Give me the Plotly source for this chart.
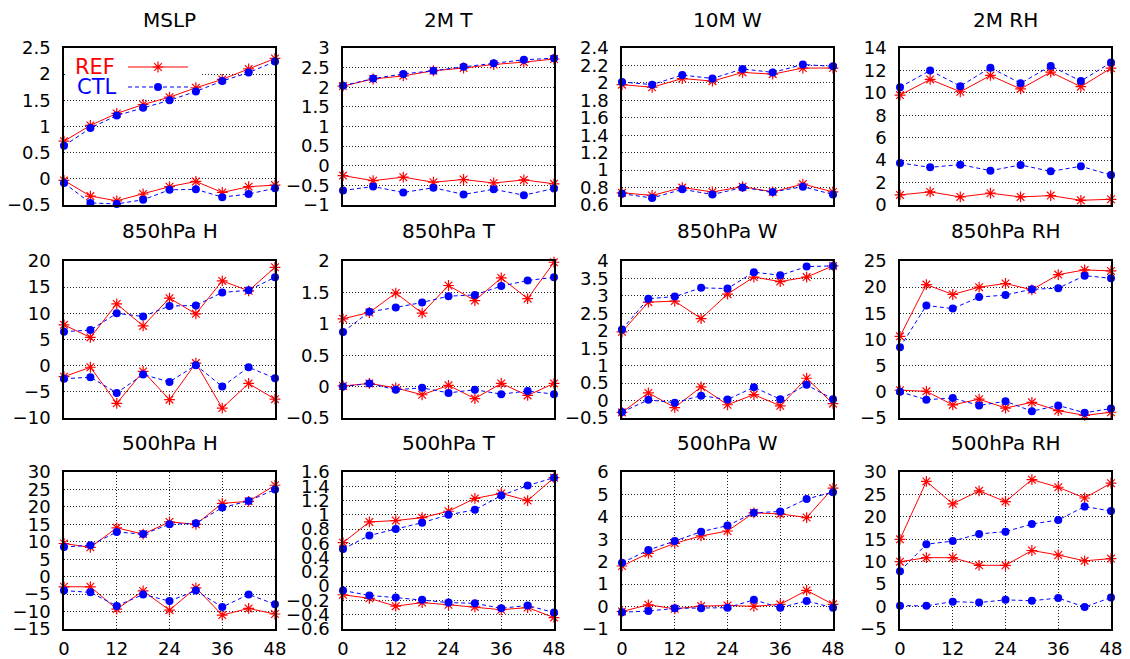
import plotly.graph_objects as go

# Forecast-error curves (REF vs CTL) for twelve fields, two curve pairs per field.
hours9 = [0, 6, 12, 18, 24, 30, 36, 42, 48]
hours8 = [6, 12, 18, 24, 30, 36, 42, 48]
xticks = [0, 12, 24, 36, 48]

# ---- MSLP
mslp_ref_a = [0.72, 1.02, 1.25, 1.42, 1.56, 1.74, 1.90, 2.10, 2.30]
mslp_ctl_a = [0.63, 0.97, 1.21, 1.36, 1.50, 1.67, 1.87, 2.03, 2.24]
mslp_ref_b = [-0.03, -0.33, -0.42, -0.29, -0.15, -0.05, -0.26, -0.15, -0.12]
mslp_ctl_b = [-0.08, -0.46, -0.48, -0.40, -0.21, -0.20, -0.35, -0.29, -0.18]
mslp_yticks = [-0.5, 0, 0.5, 1, 1.5, 2, 2.5]

# ---- 2M T
t2m_ref_a = [2.03, 2.21, 2.29, 2.42, 2.49, 2.58, 2.64, 2.72]
t2m_ctl_a = [2.04, 2.22, 2.34, 2.42, 2.52, 2.61, 2.70, 2.74]
t2m_ref_b = [-0.25, -0.38, -0.29, -0.42, -0.35, -0.44, -0.36, -0.46]
t2m_ctl_b = [-0.63, -0.53, -0.68, -0.56, -0.73, -0.60, -0.75, -0.58]
t2m_yticks = [-1, -0.5, 0, 0.5, 1, 1.5, 2, 2.5, 3]

# ---- 10M W
w10m_ref_a = [1.98, 1.95, 2.05, 2.02, 2.12, 2.10, 2.17, 2.17]
w10m_ctl_a = [2.01, 1.98, 2.09, 2.05, 2.16, 2.12, 2.21, 2.19]
w10m_ref_b = [0.74, 0.71, 0.80, 0.75, 0.81, 0.75, 0.84, 0.75]
w10m_ctl_b = [0.73, 0.68, 0.78, 0.72, 0.80, 0.75, 0.81, 0.72]
w10m_yticks = [0.6, 0.8, 1, 1.2, 1.4, 1.6, 1.8, 2, 2.2, 2.4]

# ---- 2M RH
rh2m_ref_a = [9.8, 11.2, 10.1, 11.55, 10.35, 11.85, 10.55, 12.2]
rh2m_ctl_a = [10.5, 12.0, 10.6, 12.25, 10.85, 12.4, 11.05, 12.7]
rh2m_ref_b = [0.9, 1.17, 0.72, 1.05, 0.72, 0.84, 0.42, 0.51]
rh2m_ctl_b = [3.75, 3.36, 3.6, 3.06, 3.57, 3.0, 3.45, 2.67]
rh2m_yticks = [0, 2, 4, 6, 8, 10, 12, 14]

# ---- 850hPa H
h850_ref_a = [7.8, 5.4, 11.8, 7.6, 12.9, 9.9, 16.2, 14.3, 18.8]
h850_ctl_a = [6.5, 6.8, 10.0, 9.4, 11.4, 11.5, 14.0, 14.4, 16.9]
h850_ref_b = [-2.1, -0.3, -7.2, -1.1, -6.5, 0.5, -8.1, -3.4, -6.4]
h850_ctl_b = [-2.5, -2.2, -5.2, -1.7, -3.1, 0.1, -4.0, -0.3, -2.4]
h850_yticks = [-10, -5, 0, 5, 10, 15, 20]

# ---- 850hPa T
t850_ref_a = [1.08, 1.18, 1.49, 1.17, 1.61, 1.37, 1.73, 1.40, 1.98]
t850_ctl_a = [0.87, 1.19, 1.26, 1.34, 1.44, 1.46, 1.60, 1.69, 1.74]
t850_ref_b = [0.01, 0.05, -0.02, -0.13, 0.02, -0.19, 0.05, -0.14, 0.05]
t850_ctl_b = [0.00, 0.05, -0.05, -0.02, -0.10, -0.05, -0.12, -0.07, -0.12]
t850_yticks = [-0.5, 0, 0.5, 1, 1.5, 2]

# ---- 850hPa W
w850_ref_a = [1.97, 2.82, 2.85, 2.35, 3.05, 3.54, 3.41, 3.54, 3.86]
w850_ctl_a = [2.04, 2.92, 2.98, 3.23, 3.21, 3.68, 3.59, 3.84, 3.86]
w850_ref_b = [-0.34, 0.22, -0.20, 0.39, -0.12, 0.17, -0.15, 0.64, -0.09]
w850_ctl_b = [-0.33, 0.02, -0.06, 0.14, 0.03, 0.38, 0.04, 0.45, 0.04]
w850_yticks = [-0.5, 0, 0.5, 1, 1.5, 2, 2.5, 3, 3.5, 4]

# ---- 850hPa RH
rh850_ref_a = [10.6, 20.5, 18.6, 20.0, 20.7, 19.5, 22.4, 23.3, 23.1]
rh850_ctl_a = [8.5, 16.5, 15.9, 18.1, 18.5, 19.6, 19.8, 22.2, 21.7]
rh850_ref_b = [0.3, 0.1, -2.5, -1.4, -3.1, -2.0, -3.6, -4.5, -3.9]
rh850_ctl_b = [0.0, -1.5, -1.2, -2.6, -1.8, -3.7, -2.6, -4.0, -3.2]
rh850_yticks = [-5, 0, 5, 10, 15, 20, 25]

# ---- 500hPa H
h500_ref_a = [9.5, 8.4, 14.0, 12.2, 15.7, 15.0, 21.0, 21.6, 26.2]
h500_ctl_a = [8.5, 9.0, 12.8, 12.2, 15.0, 15.3, 19.8, 21.7, 25.0]
h500_ref_b = [-2.9, -2.9, -9.3, -4.1, -9.6, -3.2, -11.0, -9.1, -10.7]
h500_ctl_b = [-4.0, -4.5, -8.4, -5.1, -7.0, -4.0, -8.7, -5.1, -7.9]
h500_yticks = [-15, -10, -5, 0, 5, 10, 15, 20, 25, 30]

# ---- 500hPa T
t500_ref_a = [0.61, 0.90, 0.92, 0.96, 1.05, 1.23, 1.30, 1.20, 1.52]
t500_ctl_a = [0.52, 0.71, 0.80, 0.89, 1.00, 1.07, 1.27, 1.41, 1.52]
t500_ref_b = [-0.12, -0.17, -0.28, -0.23, -0.26, -0.29, -0.33, -0.30, -0.44]
t500_ctl_b = [-0.06, -0.13, -0.16, -0.19, -0.23, -0.24, -0.31, -0.27, -0.37]
t500_yticks = [-0.6, -0.4, -0.2, 0, 0.2, 0.4, 0.6, 0.8, 1, 1.2, 1.4, 1.6]

# ---- 500hPa W
w500_ref_a = [1.81, 2.37, 2.82, 3.15, 3.37, 4.18, 4.13, 3.97, 5.28]
w500_ctl_a = [1.95, 2.52, 2.92, 3.34, 3.61, 4.18, 4.24, 4.80, 5.10]
w500_ref_b = [-0.22, 0.08, -0.10, 0.02, 0.05, 0.01, 0.10, 0.72, 0.10]
w500_ctl_b = [-0.25, -0.20, -0.08, -0.07, -0.05, 0.30, -0.05, 0.25, -0.05]
w500_yticks = [-1, 0, 1, 2, 3, 4, 5, 6]

# ---- 500hPa RH
rh500_ref_a = [15.0, 27.9, 22.9, 25.8, 23.4, 28.3, 26.6, 24.2, 27.5]
rh500_ctl_a = [7.9, 13.9, 14.6, 16.2, 16.7, 18.4, 19.3, 22.3, 21.3]
rh500_ref_b = [10.0, 10.9, 10.9, 9.2, 9.2, 12.5, 11.5, 10.2, 10.7]
rh500_ctl_b = [0.2, 0.16, 1.1, 0.9, 1.5, 1.3, 1.9, -0.1, 2.0]
rh500_yticks = [-5, 0, 5, 10, 15, 20, 25, 30]

panels = [
    ("MSLP", hours9, mslp_ref_a, mslp_ref_b, mslp_ctl_a, mslp_ctl_b, mslp_yticks),
    ("2M T", hours8, t2m_ref_a, t2m_ref_b, t2m_ctl_a, t2m_ctl_b, t2m_yticks),
    ("10M W", hours8, w10m_ref_a, w10m_ref_b, w10m_ctl_a, w10m_ctl_b, w10m_yticks),
    ("2M RH", hours8, rh2m_ref_a, rh2m_ref_b, rh2m_ctl_a, rh2m_ctl_b, rh2m_yticks),
    ("850hPa H", hours9, h850_ref_a, h850_ref_b, h850_ctl_a, h850_ctl_b, h850_yticks),
    ("850hPa T", hours9, t850_ref_a, t850_ref_b, t850_ctl_a, t850_ctl_b, t850_yticks),
    ("850hPa W", hours9, w850_ref_a, w850_ref_b, w850_ctl_a, w850_ctl_b, w850_yticks),
    ("850hPa RH", hours9, rh850_ref_a, rh850_ref_b, rh850_ctl_a, rh850_ctl_b, rh850_yticks),
    ("500hPa H", hours9, h500_ref_a, h500_ref_b, h500_ctl_a, h500_ctl_b, h500_yticks),
    ("500hPa T", hours9, t500_ref_a, t500_ref_b, t500_ctl_a, t500_ctl_b, t500_yticks),
    ("500hPa W", hours9, w500_ref_a, w500_ref_b, w500_ctl_a, w500_ctl_b, w500_yticks),
    ("500hPa RH", hours9, rh500_ref_a, rh500_ref_b, rh500_ctl_a, rh500_ctl_b, rh500_yticks),
]

W, H = 1130, 659
FONT = "DejaVu Sans"
RED, BLUE = "#ff0000", "#0000ff"
COL_LEFT = [64, 343, 622, 900]
ROW_TOP = [48, 261, 472]
PW, PH = 211, 157
TITLE_Y = [20, 231, 443]
GRID = dict(gridcolor="#222222", gridwidth=1, griddash="1px,2px")


def fmt(v):
    s = f"{v:g}"
    return s.replace("-", "\u2212")


ref_style = dict(mode="lines+markers", line=dict(color=RED, width=1),
                 marker=dict(symbol="asterisk-open", size=9,
                             color=RED, line=dict(color=RED, width=1.2)))
ctl_style = dict(mode="lines+markers", line=dict(color=BLUE, width=1, dash="4px,3px"),
                 marker=dict(symbol="circle", size=8, color=BLUE))

fig = go.Figure()
layout = {}
annotations = []

for i, (title, hrs, ra, rb, ca, cb, yt) in enumerate(panels):
    row, col = divmod(i, 4)
    n = i + 1
    xs = "x" if n == 1 else f"x{n}"
    ys = "y" if n == 1 else f"y{n}"
    left, top = COL_LEFT[col], ROW_TOP[row]
    xdom = [left / W, (left + PW) / W]
    ydom = [1 - (top + PH) / H, 1 - top / H]
    bottom_row = row == 2

    layout["xaxis" if n == 1 else f"xaxis{n}"] = dict(
        domain=xdom, anchor=ys, range=[hrs[0], hrs[-1]], automargin=False,
        tickmode="array", tickvals=xticks, ticktext=[fmt(v) for v in xticks],
        showticklabels=bottom_row, showgrid=bottom_row, zeroline=False,
        showline=True, mirror=True, linecolor="black", linewidth=1.6,
        ticks="", ticklabelstandoff=3,
        tickfont=dict(family=FONT, size=18, color="black"), **GRID)
    layout["yaxis" if n == 1 else f"yaxis{n}"] = dict(
        domain=ydom, anchor=xs, range=[yt[0], yt[-1]], automargin=False,
        tickmode="array", tickvals=yt, ticktext=[fmt(v) for v in yt],
        showgrid=True, zeroline=False,
        showline=True, mirror=True, linecolor="black", linewidth=1.6,
        ticks="", ticklabelstandoff=8,
        tickfont=dict(family=FONT, size=18, color="black"), **GRID)

    for yv, style in ((ra, ref_style), (ca, ctl_style), (rb, ref_style), (cb, ctl_style)):
        fig.add_trace(go.Scatter(x=hrs, y=yv, xaxis=xs, yaxis=ys, cliponaxis=False,
                                 showlegend=False, hoverinfo="skip", **style))

    annotations.append(dict(text=title, x=(left + PW / 2) / W, y=1 - TITLE_Y[row] / H,
                            xref="paper", yref="paper", xanchor="center", yanchor="middle",
                            showarrow=False, font=dict(family=FONT, size=20, color="black")))

# Key inside the MSLP panel, drawn on a hidden overlay of that panel in unit
# coordinates: an opaque strip over the grid, then label / line sample / symbol.
layout["xaxis13"] = dict(overlaying="x", anchor="y13", range=[0, 1], visible=False,
                         fixedrange=True, automargin=False)
layout["yaxis13"] = dict(overlaying="y", anchor="x13", range=[0, 1], visible=False,
                         fixedrange=True, automargin=False)

bx0, bx1 = 0.006, (200 - COL_LEFT[0]) / PW
by0, by1 = (ROW_TOP[0] + PH - 81) / PH, (ROW_TOP[0] + PH - 62) / PH
fig.add_trace(go.Scatter(x=[bx0, bx1, bx1, bx0, bx0], y=[by0, by0, by1, by1, by0],
                         xaxis="x13", yaxis="y13", mode="lines", fill="toself",
                         fillcolor="white", line=dict(width=0, color="white"),
                         showlegend=False, hoverinfo="skip"))

key_rows = [("REF", RED, 67, 73, ref_style), ("CTL", BLUE, 87, 75, ctl_style)]
x_a = (128 - COL_LEFT[0]) / PW
x_b = (188 - COL_LEFT[0]) / PW
for label, color, py, px, style in key_rows:
    fy = (ROW_TOP[0] + PH - py) / PH
    fig.add_trace(go.Scatter(x=[x_a, x_b], y=[fy, fy], xaxis="x13", yaxis="y13",
                             mode="lines", line=style["line"],
                             showlegend=False, hoverinfo="skip"))
    fig.add_trace(go.Scatter(x=[(x_a + x_b) / 2], y=[fy], xaxis="x13", yaxis="y13",
                             mode="markers", marker=style["marker"],
                             showlegend=False, hoverinfo="skip"))
    annotations.append(dict(text=label, x=px / W, y=1 - py / H,
                            xref="paper", yref="paper", xanchor="left", yanchor="middle",
                            showarrow=False, font=dict(family=FONT, size=21, color=color)))

fig.update_layout(
    width=W, height=H, margin=dict(l=0, r=0, t=0, b=0, autoexpand=False),
    paper_bgcolor="white", plot_bgcolor="white", showlegend=False,
    annotations=annotations, **layout)

fig.write_html("out.html")
